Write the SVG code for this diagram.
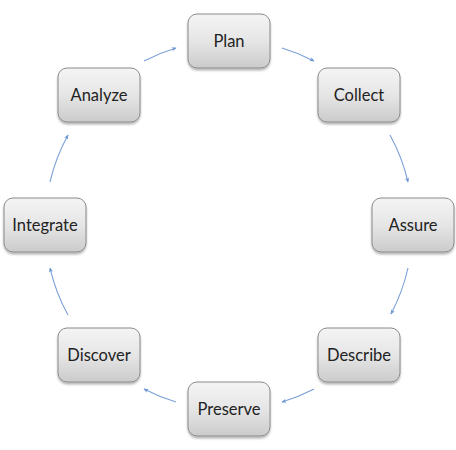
<svg xmlns="http://www.w3.org/2000/svg" width="456" height="450" viewBox="0 0 456 450">
<defs>
<linearGradient id="g" x1="0" y1="0" x2="0" y2="1">
<stop offset="0" stop-color="#f4f4f4"/>
<stop offset="0.5" stop-color="#e6e6e6"/>
<stop offset="1" stop-color="#cbcbcb"/>
</linearGradient>
<filter id="sh" x="-20%" y="-20%" width="140%" height="150%">
<feGaussianBlur in="SourceAlpha" stdDeviation="1.2"/>
<feOffset dx="0" dy="1.5" result="b"/>
<feComponentTransfer><feFuncA type="linear" slope="0.3"/></feComponentTransfer>
<feMerge><feMergeNode/><feMergeNode in="SourceGraphic"/></feMerge>
</filter>
<marker id="ah" viewBox="0 0 10 10" refX="8" refY="5" markerWidth="6" markerHeight="6" orient="auto" markerUnits="userSpaceOnUse">
<path d="M1,1.5 L9,5 L1,8.5 L3,5 Z" fill="#6f98d4"/>
</marker>
</defs>
<style>
.box{fill:url(#g);stroke:#8a8a8a;stroke-width:1;filter:url(#sh)}
.lbl{font-family:Lato,"Open Sans",sans-serif;font-size:16.5px;fill:#222222;text-anchor:middle}
.arr{fill:none;stroke:#7aa0d8;stroke-width:1.1;marker-end:url(#ah)}
</style>
<rect width="456" height="450" fill="#ffffff"/>
<g id="connectors">
<path class="arr" d="M282,48 A185,185 0 0 1 314,61"/>
<path class="arr" d="M390,135 A185,185 0 0 1 408,182"/>
<path class="arr" d="M408,268 A185,185 0 0 1 391,314"/>
<path class="arr" d="M314,389 A185,185 0 0 1 282,402"/>
<path class="arr" d="M176,402 A185,185 0 0 1 144,389"/>
<path class="arr" d="M68,315 A185,185 0 0 1 50,268"/>
<path class="arr" d="M50,182 A185,185 0 0 1 68,135"/>
<path class="arr" d="M144,61 A185,185 0 0 1 176,48"/>
</g>
<g id="plan"><rect class="box" x="188" y="14" width="82" height="54" rx="9"/><text class="lbl" x="229" y="47">Plan</text></g>
<g id="collect"><rect class="box" x="318" y="68" width="82" height="54" rx="9"/><text class="lbl" x="359" y="101">Collect</text></g>
<g id="assure"><rect class="box" x="372" y="198" width="82" height="54" rx="9"/><text class="lbl" x="413" y="231">Assure</text></g>
<g id="describe"><rect class="box" x="318" y="328" width="82" height="54" rx="9"/><text class="lbl" x="359" y="361">Describe</text></g>
<g id="preserve"><rect class="box" x="188" y="382" width="82" height="54" rx="9"/><text class="lbl" x="229" y="415">Preserve</text></g>
<g id="discover"><rect class="box" x="58" y="328" width="82" height="54" rx="9"/><text class="lbl" x="99" y="361">Discover</text></g>
<g id="integrate"><rect class="box" x="4" y="198" width="82" height="54" rx="9"/><text class="lbl" x="45" y="231">Integrate</text></g>
<g id="analyze"><rect class="box" x="58" y="68" width="82" height="54" rx="9"/><text class="lbl" x="99" y="101">Analyze</text></g>
</svg>
